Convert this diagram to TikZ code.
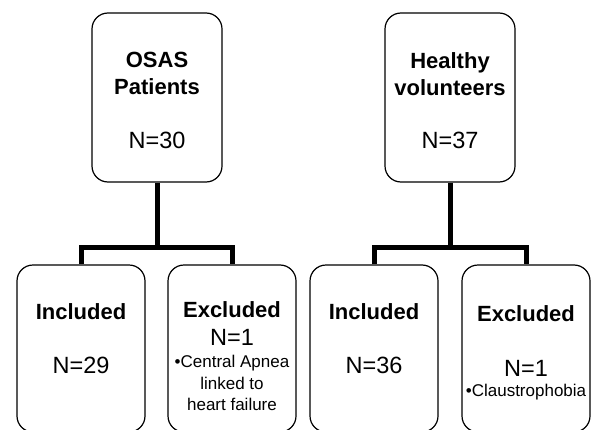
\documentclass[tikz,border=0pt]{standalone}
\usepackage{fontspec}
\setmainfont{Liberation Sans}
\usetikzlibrary{positioning}

\begin{document}
\begin{tikzpicture}[
		x = 1pt, y = 1pt,
		box/.style = {
			draw, line width=1.2pt, rounded corners=16pt,
			minimum width=130pt, minimum height=169pt, inner sep=0pt},
		lowbox/.style = {box, minimum width=128pt, minimum height=167pt},
		head/.style = {inner sep=0pt, align=center,
			font=\fontsize{22}{27}\selectfont\bfseries},
		count/.style = {inner sep=0pt, font=\fontsize{23.5}{27}\selectfont},
		note/.style = {inner sep=0pt, align=center,
			font=\fontsize{17}{21.5}\selectfont},
		link/.style = {line width=5pt}]

		\useasboundingbox (0,0) rectangle (593,429);

		\node[box] (osas) at (157,331.5) {};
		\node[box] (healthy) at (450,331.5) {};
		\node[lowbox] (inclA) at (81,80.5) {};
		\node[lowbox] (exclA) at (232,80.5) {};
		\node[lowbox] (inclB) at (374,80.5) {};
		\node[lowbox] (exclB) at (526,80.5) {};

		\node[head] (osasT) at (157,356) {OSAS\\Patients};
		\node[count] (osasN) at (157,289) {N=30};
		\node[head] (healthyT) at (450,355) {Healthy\\volunteers};
		\node[count] (healthyN) at (450,289) {N=37};

		\node[head] (inclAT) at (81,117) {Included};
		\node[count] (inclAN) at (81,64) {N=29};
		\node[head] (exclAT) at (232,119) {Excluded};
		\node[count] (exclAN) at (232,92) {N=1};
		\node[note] (exclAW) at (232,46) {\textbullet Central Apnea\\linked to\\heart failure};

		\node[head] (inclBT) at (374,117) {Included};
		\node[count] (inclBN) at (374,64) {N=36};
		\node[head] (exclBT) at (526,115) {Excluded};
		\node[count] (exclBN) at (526,61) {N=1};
		\node[note] (exclBW) at (526,37) {\textbullet Claustrophobia};

		\coordinate (jointA) at (157,182);
		\coordinate (jointB) at (450,182);
		\draw[link] (osas.south) -- (jointA);
		\draw[link] (inclA.north) |- (jointA) -| (exclA.north);
		\draw[link] (healthy.south) -- (jointB);
		\draw[link] (inclB.north) |- (jointB) -| (exclB.north);
\end{tikzpicture}
\end{document}
